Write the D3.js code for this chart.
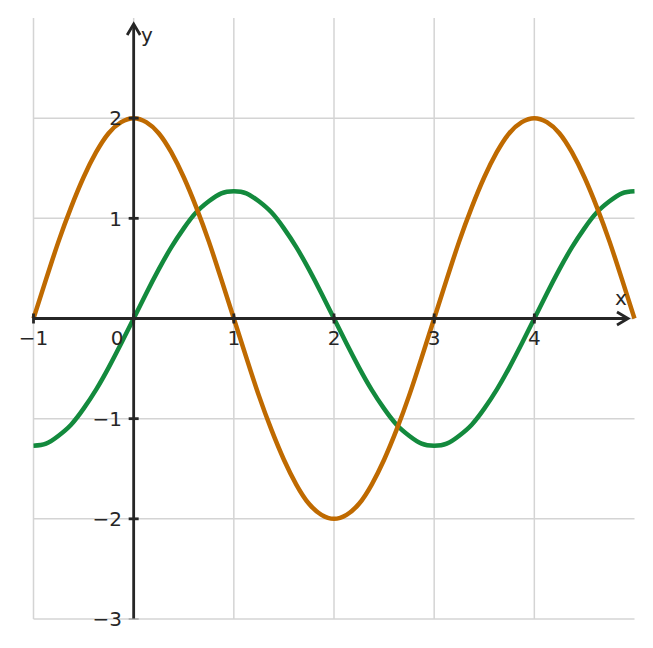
<!DOCTYPE html>
<html>
<head>
<meta charset="utf-8">
<script src="https://cdn.jsdelivr.net/npm/d3@7"></script>
<style>
  body { margin: 0; background: #fff; }
  text { font-family: "DejaVu Sans", sans-serif; fill: #262626; }
</style>
</head>
<body>
<div id="chart"></div>
<script>
// values, x from -1 to 5 in steps of 0.125
var xs = d3.range(49).map(function(i){ return -1 + i * 0.125; });
var orangeY = [0, 0.39, 0.77, 1.11, 1.41, 1.66, 1.85, 1.96, 2,
               1.96, 1.85, 1.66, 1.41, 1.11, 0.77, 0.39, 0,
               -0.39, -0.77, -1.11, -1.41, -1.66, -1.85, -1.96, -2,
               -1.96, -1.85, -1.66, -1.41, -1.11, -0.77, -0.39, 0,
               0.39, 0.77, 1.11, 1.41, 1.66, 1.85, 1.96, 2,
               1.96, 1.85, 1.66, 1.41, 1.11, 0.77, 0.39, 0];
var greenY = [-1.27, -1.25, -1.17, -1.06, -0.9, -0.71, -0.49, -0.25, 0,
              0.25, 0.49, 0.71, 0.9, 1.06, 1.17, 1.25, 1.27,
              1.25, 1.17, 1.06, 0.9, 0.71, 0.49, 0.25, 0,
              -0.25, -0.49, -0.71, -0.9, -1.06, -1.17, -1.25, -1.27,
              -1.25, -1.17, -1.06, -0.9, -0.71, -0.49, -0.25, 0,
              0.25, 0.49, 0.71, 0.9, 1.06, 1.17, 1.25, 1.27];
var xTicks = [-1, 1, 2, 3, 4];
var yTicks = [-3, -2, -1, 1, 2];
var xGrid = [-1, 0, 1, 2, 3, 4];
var yGrid = [-3, -2, -1, 0, 1, 2];

var w = 653, h = 648;
var x = d3.scaleLinear().domain([-1, 5]).range([33.5, 634.5]);
var y = d3.scaleLinear().domain([-3, 3]).range([619, 18]);

var svg = d3.select("#chart").append("svg")
    .attr("width", w)
    .attr("height", h);

// grid
svg.selectAll("line.vg")
    .data(xGrid)
    .enter()
    .append("line")
    .attr("x1", function(d){ return x(d); })
    .attr("x2", function(d){ return x(d); })
    .attr("y1", y(3))
    .attr("y2", y(-3))
    .attr("stroke", "#d4d4d4")
    .attr("stroke-width", 1.5);

svg.selectAll("line.hg")
    .data(yGrid)
    .enter()
    .append("line")
    .attr("x1", x(-1))
    .attr("x2", x(5))
    .attr("y1", function(d){ return y(d); })
    .attr("y2", function(d){ return y(d); })
    .attr("stroke", "#d4d4d4")
    .attr("stroke-width", 1.5);

// curves
var line = d3.line()
    .x(function(d){ return x(d[0]); })
    .y(function(d){ return y(d[1]); })
    .curve(d3.curveNatural);

svg.append("path")
    .datum(d3.zip(xs, greenY))
    .attr("d", line)
    .attr("fill", "none")
    .attr("stroke", "#138a3d")
    .attr("stroke-width", 4.5);

svg.append("path")
    .datum(d3.zip(xs, orangeY))
    .attr("d", line)
    .attr("fill", "none")
    .attr("stroke", "#bf6a00")
    .attr("stroke-width", 4.5);

// axes through origin
var ax = "#262626";
svg.append("line")
    .attr("x1", x(-1)).attr("x2", 628)
    .attr("y1", y(0)).attr("y2", y(0))
    .attr("stroke", ax).attr("stroke-width", 2.8);
svg.append("path")
    .attr("d", "M" + 617 + "," + (y(0) - 6.5) + "L628," + y(0) + "L617," + (y(0) + 6.5))
    .attr("fill", "none").attr("stroke", ax).attr("stroke-width", 2.8);

svg.append("line")
    .attr("x1", x(0)).attr("x2", x(0))
    .attr("y1", y(-3)).attr("y2", 24)
    .attr("stroke", ax).attr("stroke-width", 2.8);
svg.append("path")
    .attr("d", "M" + (x(0) - 6.5) + ",35L" + x(0) + ",24L" + (x(0) + 6.5) + ",35")
    .attr("fill", "none").attr("stroke", ax).attr("stroke-width", 2.8);

// ticks
svg.selectAll("line.xt")
    .data(xTicks.concat([0]))
    .enter()
    .append("line")
    .attr("x1", function(d){ return x(d); })
    .attr("x2", function(d){ return x(d); })
    .attr("y1", y(0) - 5)
    .attr("y2", y(0) + 5)
    .attr("stroke", ax)
    .attr("stroke-width", 2.8);

svg.selectAll("line.yt")
    .data(yTicks)
    .enter()
    .append("line")
    .attr("x1", x(0) - 5)
    .attr("x2", x(0) + 5)
    .attr("y1", function(d){ return y(d); })
    .attr("y2", function(d){ return y(d); })
    .attr("stroke", function(d){ return d === -3 ? "#999" : ax; })
    .attr("stroke-width", function(d){ return d === -3 ? 1.2 : 2.8; });

// tick labels
var fmt = function(d){ return d < 0 ? "\u2212" + Math.abs(d) : "" + d; };

svg.selectAll("text.xl")
    .data(xTicks)
    .enter()
    .append("text")
    .attr("x", function(d){ return x(d); })
    .attr("y", 345)
    .attr("text-anchor", "middle")
    .style("font-size", "20px")
    .text(fmt);

svg.append("text")
    .attr("x", 117)
    .attr("y", 345)
    .attr("text-anchor", "middle")
    .style("font-size", "20px")
    .text("0");

svg.selectAll("text.yl")
    .data(yTicks)
    .enter()
    .append("text")
    .attr("x", 122)
    .attr("y", function(d){ return y(d); })
    .attr("dy", "0.36em")
    .attr("text-anchor", "end")
    .style("font-size", "20px")
    .text(fmt);

// axis names
svg.append("text")
    .attr("x", 621)
    .attr("y", 305)
    .attr("text-anchor", "middle")
    .style("font-size", "20px")
    .text("x");

svg.append("text")
    .attr("x", 141)
    .attr("y", 42)
    .style("font-size", "20px")
    .text("y");
</script>
</body>
</html>
